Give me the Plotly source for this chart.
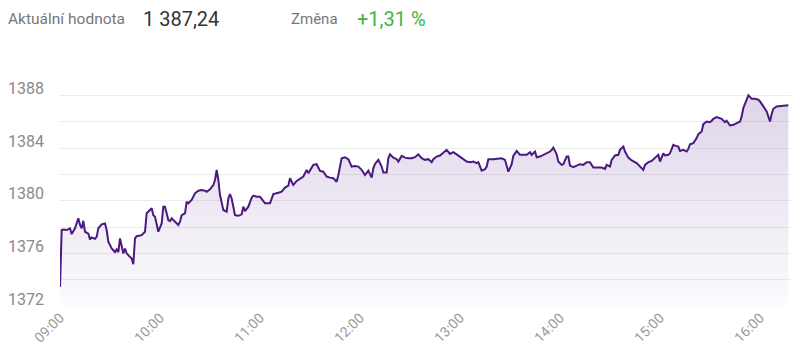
import plotly.graph_objects as go

DAY = "2024-01-01 "

times = [
    "09:00", "09:01", "09:02", "09:04", "09:06", "09:07", "09:09", "09:11", "09:12", "09:13",
    "09:14", "09:15", "09:17", "09:18", "09:19", "09:21", "09:22", "09:23", "09:25", "09:27",
    "09:28", "09:29", "09:31", "09:33", "09:34", "09:35", "09:36", "09:37", "09:38", "09:39",
    "09:40", "09:41", "09:43", "09:44", "09:45", "09:46", "09:49", "09:51", "09:52", "09:54",
    "09:55", "09:56", "09:57", "09:59", "10:01", "10:02", "10:03", "10:05", "10:06", "10:07",
    "10:09", "10:11", "10:12", "10:13", "10:15", "10:16", "10:17", "10:19", "10:21", "10:23",
    "10:25", "10:27", "10:28", "10:30", "10:32", "10:33", "10:34", "10:35", "10:36", "10:38",
    "10:40", "10:41", "10:42", "10:43", "10:45", "10:47", "10:49", "10:50", "10:51", "10:53",
    "10:55", "10:56", "10:58", "11:00", "11:01", "11:03", "11:06", "11:08", "11:11", "11:13",
    "11:15", "11:17", "11:18", "11:20", "11:22", "11:24", "11:26", "11:28", "11:29", "11:31",
    "11:32", "11:34", "11:36", "11:38", "11:40", "11:42", "11:44", "11:46", "11:47", "11:49",
    "11:51", "11:52", "11:53", "11:55", "11:57", "11:59", "12:01", "12:03", "12:05", "12:07",
    "12:08", "12:09", "12:11", "12:13", "12:14", "12:16", "12:17", "12:18", "12:20", "12:22",
    "12:23", "12:25", "12:27", "12:29", "12:31", "12:33", "12:35", "12:37", "12:39", "12:41",
    "12:43", "12:44", "12:46", "12:48", "12:50", "12:52", "12:54", "12:56", "12:58", "13:00",
    "13:02", "13:04", "13:06", "13:08", "13:10", "13:11", "13:13", "13:15", "13:16", "13:17",
    "13:20", "13:25", "13:27", "13:29", "13:31", "13:32", "13:34", "13:36", "13:38", "13:40",
    "13:42", "13:43", "13:45", "13:46", "13:48", "13:50", "13:52", "13:54", "13:55", "13:56",
    "13:58", "13:59", "14:01", "14:02", "14:04", "14:05", "14:06", "14:08", "14:10", "14:12",
    "14:14", "14:16", "14:18", "14:20", "14:25", "14:27", "14:28", "14:30", "14:31", "14:33",
    "14:35", "14:36", "14:38", "14:39", "14:41", "14:43", "14:46", "14:48", "14:50", "14:51",
    "14:53", "14:55", "14:57", "14:59", "15:00", "15:02", "15:03", "15:05", "15:06", "15:08",
    "15:09", "15:11", "15:12", "15:14", "15:16", "15:17", "15:18", "15:20", "15:22", "15:23",
    "15:25", "15:26", "15:28", "15:30", "15:31", "15:32", "15:34", "15:35", "15:37", "15:39",
    "15:40", "15:42", "15:44", "15:46", "15:48", "15:49", "15:50", "15:52", "15:53", "15:55",
    "15:57", "15:59", "16:00", "16:02", "16:04", "16:05", "16:06", "16:07", "16:08", "16:10",
    "16:13", "16:17",
]

values = [
    1373.45, 1377.77, 1377.80, 1377.77, 1377.90, 1377.46, 1377.90, 1378.66, 1378.15, 1377.90,
    1378.47, 1377.64, 1377.50, 1377.06, 1377.20, 1377.10, 1377.25, 1377.90, 1378.20, 1378.27,
    1377.77, 1376.88, 1376.37, 1376.10, 1376.30, 1376.10, 1377.13, 1376.50, 1375.99, 1376.37,
    1376.00, 1375.86, 1375.60, 1375.18, 1377.13, 1377.30, 1377.38, 1377.64, 1379.04, 1379.29,
    1379.42, 1378.90, 1378.78, 1377.64, 1378.27, 1379.54, 1379.54, 1378.53, 1378.45, 1378.66,
    1378.40, 1378.15, 1378.40, 1378.90, 1379.04, 1379.92, 1379.80, 1380.05, 1380.56, 1380.76,
    1380.80, 1380.76, 1380.68, 1380.86, 1381.19, 1381.57, 1382.34, 1381.57, 1380.43, 1379.29,
    1379.16, 1380.17, 1380.50, 1380.17, 1378.90, 1378.85, 1378.96, 1379.54, 1379.20, 1379.54,
    1380.22, 1380.38, 1380.30, 1380.30, 1380.13, 1379.80, 1379.80, 1380.50, 1380.60, 1380.68,
    1380.99, 1381.14, 1381.70, 1381.19, 1381.50, 1381.70, 1381.83, 1382.34, 1382.09, 1382.51,
    1382.72, 1382.77, 1382.26, 1382.20, 1381.83, 1381.75, 1381.70, 1381.44, 1381.95, 1383.22,
    1383.30, 1383.22, 1383.15, 1382.59, 1382.64, 1382.59, 1382.34, 1381.95, 1382.28, 1381.75,
    1382.46, 1382.79, 1383.10, 1382.59, 1382.13, 1382.13, 1383.22, 1383.52, 1383.27, 1383.15,
    1382.97, 1383.40, 1383.27, 1383.22, 1383.22, 1383.30, 1383.52, 1383.22, 1383.10, 1383.15,
    1382.92, 1383.15, 1383.35, 1383.43, 1383.61, 1383.86, 1383.55, 1383.68, 1383.52, 1383.35,
    1383.17, 1382.97, 1382.92, 1382.97, 1382.85, 1382.92, 1382.28, 1382.39, 1382.59, 1383.15,
    1383.15, 1383.22, 1383.10, 1382.20, 1382.77, 1383.40, 1383.78, 1383.48, 1383.48, 1383.48,
    1383.68, 1383.48, 1383.73, 1383.30, 1383.35, 1383.48, 1383.66, 1383.73, 1383.86, 1384.03,
    1383.52, 1382.97, 1382.72, 1382.77, 1383.35, 1383.35, 1382.66, 1382.54, 1382.66, 1382.77,
    1382.72, 1382.92, 1382.92, 1382.51, 1382.51, 1382.41, 1382.72, 1382.59, 1383.10, 1383.43,
    1383.48, 1383.86, 1384.11, 1383.73, 1383.27, 1383.05, 1382.85, 1382.59, 1382.34, 1382.72,
    1382.92, 1383.02, 1383.27, 1383.48, 1382.97, 1383.60, 1383.43, 1383.48, 1383.60, 1384.24,
    1384.18, 1384.11, 1383.78, 1383.86, 1383.73, 1383.93, 1384.29, 1384.37, 1384.75, 1385.05,
    1385.25, 1385.81, 1386.01, 1385.96, 1386.07, 1386.22, 1386.35, 1386.32, 1386.22, 1385.96,
    1386.07, 1385.71, 1385.76, 1385.89, 1386.01, 1386.40, 1387.03, 1387.67, 1388.00, 1387.74,
    1387.74, 1387.67, 1387.54, 1387.16, 1386.78, 1386.40, 1386.01, 1386.58, 1386.98, 1387.16,
    1387.18, 1387.24,
]

current_label = "Aktuální hodnota"
current_value = "1 387,24"
change_label = "Změna"
change_value = "+1,31 %"

x_start = "09:00"
x_end = "16:18:36"
y_min, y_max = 1372, 1390

LINE = "#4a1a80"
FONT = "Roboto, 'Open Sans', sans-serif"

fig = go.Figure()
fig.add_trace(go.Scatter(
    x=[DAY + t for t in times],
    y=values,
    mode="lines",
    line=dict(color=LINE, width=2),
    fill="tozeroy",
    fillgradient=dict(
        type="vertical",
        start=y_min,
        stop=y_max,
        colorscale=[[0, "rgba(90,40,140,0.02)"], [1, "rgba(90,40,140,0.22)"]],
    ),
    hoverinfo="skip",
    showlegend=False,
))

# the page body adds an 8px offset, so the figure is 8px smaller on each axis
fig.update_layout(
    width=792, height=354,
    margin=dict(l=52, r=9, t=61, b=56),
    paper_bgcolor="white",
    plot_bgcolor="white",
    font=dict(family=FONT, color="#999999"),
    xaxis=dict(
        type="date",
        range=[DAY + x_start, DAY + x_end],
        tick0=DAY + "09:00",
        dtick=3600000,
        tickformat="%H:%M",
        tickangle=-45,
        tickfont=dict(size=14, color="#9a9a9a"),
        showgrid=False,
        zeroline=False,
        showline=False,
        ticks="",
        automargin=False,
    ),
    yaxis=dict(
        range=[y_min, y_max],
        tick0=1372,
        dtick=4,
        tickfont=dict(size=16, color="#8a8a8a"),
        gridcolor="#ececec",
        gridwidth=1,
        minor=dict(dtick=2, tick0=1372, showgrid=True, gridcolor="#ececec", gridwidth=1),
        zeroline=False,
        showline=False,
        ticks="",
        ticklabelstandoff=15,
        ticklabelshift=-7,
        automargin=False,
    ),
    annotations=[
        dict(text=current_label, xref="paper", yref="paper", x=0, y=1,
             xshift=-54, yshift=50, xanchor="left", yanchor="middle", showarrow=False,
             font=dict(size=15.5, color="#777777", family=FONT)),
        dict(text=current_value, xref="paper", yref="paper", x=0, y=1,
             xshift=81, yshift=50, xanchor="left", yanchor="middle", showarrow=False,
             font=dict(size=20, color="#333333", family=FONT)),
        dict(text=change_label, xref="paper", yref="paper", x=0, y=1,
             xshift=229, yshift=50, xanchor="left", yanchor="middle", showarrow=False,
             font=dict(size=15, color="#777777", family=FONT)),
        dict(text=change_value, xref="paper", yref="paper", x=0, y=1,
             xshift=295, yshift=50, xanchor="left", yanchor="middle", showarrow=False,
             font=dict(size=20, color="#3fb53f", family=FONT)),
    ],
)

fig.write_html("out.html")
